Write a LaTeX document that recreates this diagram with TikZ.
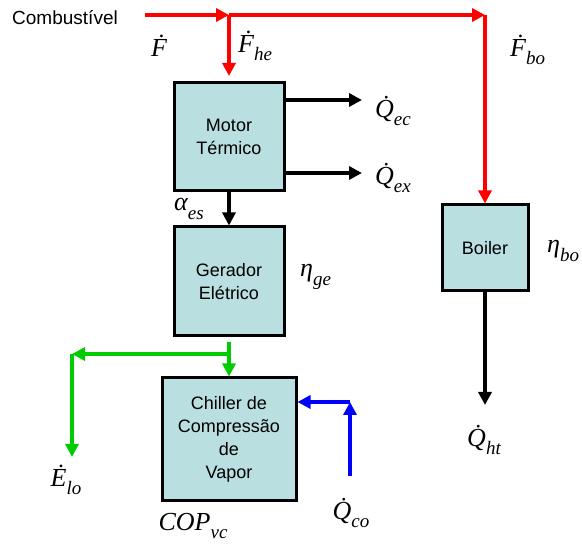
\documentclass[tikz,border=0pt]{standalone}
\usepackage{fontspec}
\usetikzlibrary{arrows.meta}
\newfontfamily\sansf{Liberation Sans}
\newfontfamily\tms{Liberation Serif}
\definecolor{boxfill}{RGB}{185,223,225}
\definecolor{grn}{RGB}{0,204,0}
\newcommand{\sbs}[1]{\raisebox{-0.32em}{\fontsize{19}{19}\selectfont #1}}
\newcommand{\lbl}[2]{{\tms\itshape #1\sbs{#2}}}
\tikzset{
  blockbox/.style={draw=black, line width=3pt, fill=boxfill, align=center,
    font=\sansf\fontsize{18}{23}\selectfont, inner sep=0pt},
  flow/.style={line width=4pt, -{Triangle[length=13pt,width=13pt]}},
  mlabel/.style={font=\fontsize{26}{30}\selectfont, inner sep=0pt},
}
\begin{document}
\begin{tikzpicture}[x=1pt,y=-1pt]
\useasboundingbox (0,0) rectangle (582,545);
% blocks
\node[blockbox, minimum width=110pt, minimum height=108pt] (motor) at (229,136.5) {Motor\\Térmico};
\node[blockbox, minimum width=110pt, minimum height=109pt] (gerador) at (229,281.5) {Gerador\\Elétrico};
\node[blockbox, minimum width=134pt, minimum height=123pt] (chiller) at (229,439.5) {Chiller de\\Compressão\\de\\Vapor};
\node[blockbox, minimum width=86pt, minimum height=86pt] (boiler) at (485,248) {Boiler};
% text labels
\node[font=\sansf\fontsize{19}{22}\selectfont, inner sep=0pt] (comb) at (65,18) {Combustível};
\node[mlabel] (lF) at (159,46) {{\tms\itshape Ḟ}};
\node[mlabel, anchor=west] (lFhe) at (238,46) {\lbl{Ḟ}{he}};
\node[mlabel, anchor=west] (lFbo) at (510,50) {\lbl{Ḟ}{bo}};
\node[mlabel, anchor=west] (lQec) at (375,111) {\lbl{\.Q}{ec}};
\node[mlabel, anchor=west] (lQex) at (375,178) {\lbl{\.Q}{ex}};
\node[mlabel, anchor=west] (laes) at (174,209) {\lbl{α}{es}};
\node[mlabel, anchor=west] (lnge) at (300,277) {\lbl{η}{ge}};
\node[mlabel, anchor=west] (lnbo) at (547,251) {\lbl{η}{bo}};
\node[mlabel] (lQht) at (484,440) {\lbl{\.Q}{ht}};
\node[mlabel] (lElo) at (66,480) {\lbl{Ė}{lo}};
\node[mlabel] (lQco) at (351,513) {\lbl{\.Q}{co}};
\node[mlabel] (lcop) at (193,526) {\lbl{COP}{vc}};
% coordinates
\coordinate (fin) at (145,15);
\coordinate (j1) at (229,15);
\coordinate (j2) at (485,15);
\coordinate (qec) at (362,100);
\coordinate (qex) at (362,173);
\coordinate (qht) at (485,405);
\coordinate (g0) at (229,342);
\coordinate (g1) at (229,354);
\coordinate (gl) at (72,354);
\coordinate (el) at (72,457);
\coordinate (b0) at (350,476);
\coordinate (b1) at (350,402);
% red fuel lines
\draw[flow, red] (fin) -- (j1);
\draw[flow, red] (j1) -- (j2);
\draw[flow, red] (j2) -- (boiler.north);
\draw[flow, red, shorten >=5pt] (j1) -- (motor.north);
% black
\draw[flow] (motor.east |- qec) -- (qec);
\draw[flow] (motor.east |- qex) -- (qex);
\draw[flow] (motor.south) -- (gerador.north);
\draw[flow] (boiler.south) -- (qht);
% green
\draw[flow, grn] (g0) -- (chiller.north);
\draw[flow, grn] (g1) -- (gl);
\draw[flow, grn] (gl) -- (el);
% blue
\draw[flow, blue] (b0) -- (b1);
\draw[flow, blue] (b1) -- (chiller.east |- b1);
\end{tikzpicture}
\end{document}
